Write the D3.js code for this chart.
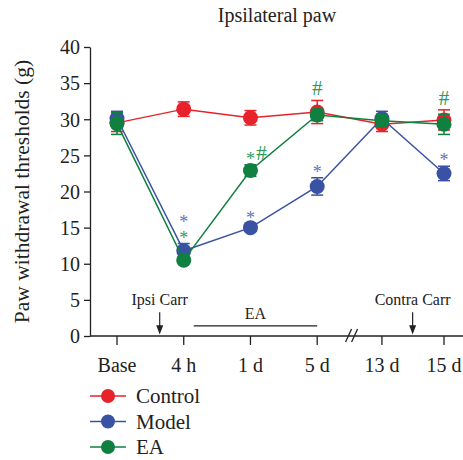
<!DOCTYPE html>
<html>
<head>
<meta charset="utf-8">
<script src="https://cdn.jsdelivr.net/npm/d3@7"></script>
<style>
  body { margin: 0; background: #fff; }
  svg text { font-family: "Liberation Serif", "DejaVu Serif", serif !important; fill: #222; }
</style>
</head>
<body>
<svg id="chart"></svg>
<script>
// time points (slot = position along the broken x axis)
const timePoints = ["Base", "4 h", "1 d", "5 d", "13 d", "15 d"];
const slots = [0, 1, 2, 3, 3.97, 4.9];

const controlMean = [29.5, 31.4, 30.2, 31.0, 29.3, 29.9];
const controlErr  = [1.2, 1.0, 1.0, 1.6, 1.0, 1.4];
const modelMean   = [30.1, 11.8, 15.0, 20.7, 30.1, 22.5];
const modelErr    = [1.0, 1.0, 0.5, 1.2, 1.0, 1.0];
const eaMean      = [29.4, 10.5, 22.9, 30.6, 29.8, 29.3];
const eaErr       = [1.5, 0.5, 0.8, 0.8, 0.8, 1.4];

const yTicks = [0, 5, 10, 15, 20, 25, 30, 35, 40];

// significance marks: [group, time index, label]
const marks = [
  ["EA", 1, "*"], ["Model", 1, "*"],
  ["Model", 2, "*"], ["EA", 2, "*#"],
  ["Model", 3, "*"], ["EA", 3, "#"],
  ["Model", 5, "*"], ["EA", 5, "#"]
];

const groups = [
  {name: "Control", color: "#e8222a", mean: controlMean, err: controlErr},
  {name: "Model", color: "#3a52a3", mean: modelMean, err: modelErr},
  {name: "EA", color: "#0f8040", mean: eaMean, err: eaErr}
];
const markColor = {Model: "#5d73c2", EA: "#2f9a5a"};

const width = 463, height = 460;
const margin = {top: 47, left: 90, bottom: 124};

const svg = d3.select("#chart").attr("width", width).attr("height", height);

const x = d3.scaleLinear().domain([0, 4.9]).range([117, 444]);
const y = d3.scaleLinear().domain([0, 40]).range([height - margin.bottom, margin.top]);

// title
svg.append("text")
  .attr("x", 277).attr("y", 22)
  .attr("text-anchor", "middle")
  .style("font-size", "20px")
  .text("Ipsilateral paw");

// y axis
const yAxis = svg.append("g")
  .attr("transform", `translate(${margin.left},0)`)
  .call(d3.axisLeft(y).tickValues(yTicks).tickSize(6).tickSizeOuter(0));
yAxis.attr("font-family", null);
yAxis.select(".domain").attr("stroke", "#222").attr("stroke-width", 1.3);
yAxis.selectAll(".tick line").attr("stroke", "#222").attr("stroke-width", 1.3);
yAxis.selectAll(".tick text")
  .attr("x", -10)
  .attr("dy", "0.34em")
  .style("font-size", "20px");

svg.append("text")
  .attr("transform", `translate(28.5,${y(20)}) rotate(-90)`)
  .attr("text-anchor", "middle")
  .style("font-size", "21.5px")
  .text("Paw withdrawal thresholds (g)");

// x axis
const xAxis = svg.append("g")
  .attr("transform", `translate(0,${y(0)})`);
xAxis.append("line")
  .attr("x1", margin.left).attr("x2", width)
  .attr("stroke", "#222").attr("stroke-width", 1.3);
timePoints.forEach((t, i) => {
  xAxis.append("line")
    .attr("x1", x(slots[i])).attr("x2", x(slots[i]))
    .attr("y1", 0).attr("y2", 9)
    .attr("stroke", "#222").attr("stroke-width", 1.3);
  xAxis.append("text")
    .attr("x", x(slots[i])).attr("y", 36)
    .attr("text-anchor", "middle")
    .style("font-size", "20px")
    .text(t);
});
// axis break
const bx = (x(3) + x(3.97)) / 2 + 2;
[-3, 3].forEach(dx => {
  xAxis.append("line")
    .attr("x1", bx + dx - 3).attr("y1", 6)
    .attr("x2", bx + dx + 3).attr("y2", -7)
    .attr("stroke", "#222").attr("stroke-width", 1.3);
});

// annotations: injection arrows and EA period
const arrows = [{label: "Ipsi Carr", pos: 0.64}, {label: "Contra Carr", pos: 4.43}];
arrows.forEach(a => {
  const ax = x(a.pos);
  svg.append("text")
    .attr("x", ax).attr("y", y(4.3))
    .attr("text-anchor", "middle")
    .style("font-size", "16px")
    .text(a.label);
  svg.append("line")
    .attr("x1", ax).attr("x2", ax)
    .attr("y1", y(3.3)).attr("y2", y(0.9))
    .attr("stroke", "#222").attr("stroke-width", 1.2);
  svg.append("path")
    .attr("d", `M${ax - 3.5},${y(1.5)} L${ax + 3.5},${y(1.5)} L${ax},${y(0.2)} Z`)
    .attr("fill", "#222");
});

svg.append("line")
  .attr("x1", x(1.15)).attr("x2", x(3))
  .attr("y1", y(1.4)).attr("y2", y(1.4))
  .attr("stroke", "#222").attr("stroke-width", 1.2);
svg.append("text")
  .attr("x", (x(1.15) + x(3)) / 2).attr("y", y(2.35))
  .attr("text-anchor", "middle")
  .style("font-size", "16px")
  .text("EA");

// series
const line = d3.line()
  .x((d, i) => x(slots[i]))
  .y(d => y(d));

groups.forEach(g => {
  const gg = svg.append("g");
  gg.append("path")
    .datum(g.mean)
    .attr("d", line)
    .attr("fill", "none")
    .attr("stroke", g.color)
    .attr("stroke-width", 1.5);

  const eb = gg.selectAll(".eb")
    .data(g.mean.map((m, i) => ({m, e: g.err[i], i})))
    .enter().append("g");
  eb.append("line")
    .attr("x1", d => x(slots[d.i])).attr("x2", d => x(slots[d.i]))
    .attr("y1", d => y(d.m - d.e)).attr("y2", d => y(d.m + d.e))
    .attr("stroke", g.color).attr("stroke-width", 1.5);
  [-1, 1].forEach(s => {
    eb.append("line")
      .attr("x1", d => x(slots[d.i]) - 6).attr("x2", d => x(slots[d.i]) + 6)
      .attr("y1", d => y(d.m + s * d.e)).attr("y2", d => y(d.m + s * d.e))
      .attr("stroke", g.color).attr("stroke-width", 1.5);
  });
  eb.append("circle")
    .attr("cx", d => x(slots[d.i]))
    .attr("cy", d => y(d.m))
    .attr("r", 7.5)
    .attr("fill", g.color);
});

// significance marks: placed above the cluster of points near this group's point
const stacks = {};
marks.forEach(([grp, i, label]) => {
  const g = groups.find(d => d.name === grp);
  const near = groups.filter(o => Math.abs(o.mean[i] - g.mean[i]) < 3);
  let top = y(d3.max(near, o => o.mean[i] + o.err[i]));
  // a second mark in the same cluster goes on top of the first
  const prev = stacks[i];
  if (prev && near.some(o => o.name === prev.grp)) top = prev.top;
  const cx = x(slots[i]);
  const cy = top - (label === "#" ? 12 : 9);
  stacks[i] = {grp, top: cy - 7};
  const t = svg.append("text")
    .attr("x", cx)
    .attr("text-anchor", "middle")
    .style("fill", markColor[grp]);
  if (label === "*#") {
    t.append("tspan").style("font-size", "18px").attr("y", cy + 9).text("*");
    t.append("tspan").style("font-size", "21px").attr("dx", 2).attr("y", cy + 4).text("#");
  } else if (label === "*") {
    t.style("font-size", "18px").attr("y", cy + 9).text("*");
  } else {
    t.style("font-size", "21px").attr("y", cy + 7).text("#");
  }
});

// legend
const legend = svg.append("g").attr("transform", "translate(90,396)");
groups.forEach((g, i) => {
  const row = legend.append("g").attr("transform", `translate(0,${i * 25.5})`);
  row.append("line")
    .attr("x1", 0).attr("x2", 36)
    .attr("stroke", g.color).attr("stroke-width", 1.5);
  row.append("circle")
    .attr("cx", 18).attr("r", 7)
    .attr("fill", g.color);
  row.append("text")
    .attr("x", 46).attr("y", 7)
    .style("font-size", "21px")
    .text(g.name);
});
</script>
</body>
</html>
